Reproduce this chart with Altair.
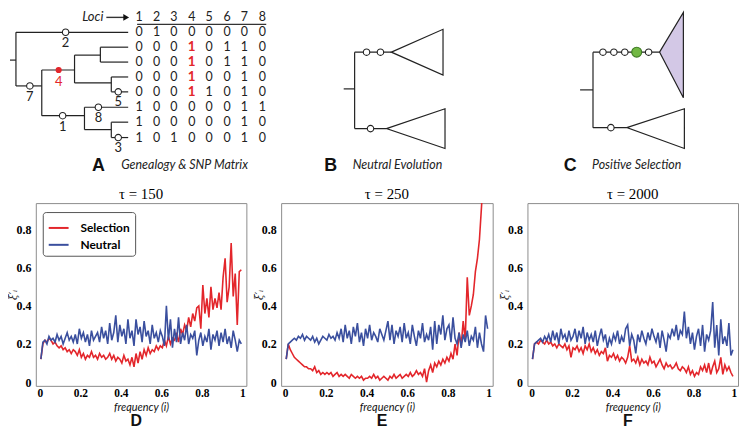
import altair as alt
import pandas as pd

RED = "#e3262b"
BLUE = "#3a4f9e"
INK = "#222222"

# ---------------- bottom panels: frequency bins and values ----------------
freq = [round(0.005 + 0.01 * k, 3) for k in range(100)]

d_sel = [0.12, 0.20, 0.22, 0.21, 0.23, 0.22, 0.20, 0.21, 0.19, 0.18,
         0.19, 0.17, 0.18, 0.16, 0.17, 0.15, 0.17, 0.16, 0.14, 0.17,
         0.13, 0.15, 0.12, 0.14, 0.13, 0.16, 0.13, 0.14, 0.12, 0.15,
         0.13, 0.14, 0.12, 0.13, 0.15, 0.12, 0.14, 0.11, 0.13, 0.12,
         0.10, 0.14, 0.11, 0.12, 0.09, 0.13, 0.08, 0.15, 0.10, 0.16,
         0.12, 0.17, 0.14, 0.18, 0.15, 0.17, 0.16, 0.19, 0.17, 0.19,
         0.18, 0.22, 0.19, 0.24, 0.20, 0.23, 0.22, 0.25, 0.21, 0.28,
         0.25, 0.30, 0.27, 0.34, 0.29, 0.36, 0.32, 0.39, 0.40, 0.28,
         0.51, 0.36, 0.44, 0.34, 0.50, 0.38, 0.44, 0.39, 0.47, 0.38,
         0.55, 0.65, 0.42, 0.50, 0.73, 0.45, 0.57, 0.30, 0.58, 0.59]
d_neu = [0.12, 0.21, 0.22, 0.20, 0.24, 0.22, 0.23, 0.21, 0.25, 0.22,
         0.24, 0.20, 0.23, 0.26, 0.22, 0.24, 0.21, 0.25, 0.20, 0.28,
         0.23, 0.26, 0.21, 0.25, 0.19, 0.27, 0.22, 0.24, 0.26, 0.21,
         0.29, 0.23, 0.27, 0.20, 0.31, 0.22, 0.26, 0.35, 0.21, 0.30,
         0.24, 0.28, 0.20, 0.33, 0.23, 0.27, 0.19, 0.33, 0.25, 0.29,
         0.21, 0.32, 0.24, 0.27, 0.20, 0.30, 0.23, 0.26, 0.21, 0.27,
         0.24, 0.19, 0.40, 0.22, 0.33, 0.18, 0.28, 0.21, 0.34, 0.20,
         0.26, 0.22, 0.30, 0.20, 0.25, 0.23, 0.27, 0.14, 0.22, 0.26,
         0.19, 0.24, 0.21, 0.28, 0.17, 0.25, 0.22, 0.27, 0.19, 0.26,
         0.21, 0.28, 0.20, 0.24, 0.18, 0.27, 0.22, 0.16, 0.22, 0.20]

e_sel = [0.12, 0.20, 0.17, 0.15, 0.13, 0.12, 0.11, 0.10, 0.09, 0.08,
         0.08, 0.07, 0.07, 0.06, 0.08, 0.05, 0.06, 0.04, 0.05, 0.04,
         0.05, 0.04, 0.05, 0.03, 0.04, 0.05, 0.03, 0.04, 0.03, 0.04,
         0.03, 0.02, 0.04, 0.03, 0.02, 0.03, 0.02, 0.03, 0.01, 0.02,
         0.02, 0.03, 0.02, 0.04, 0.02, 0.03, 0.01, 0.02, 0.03, 0.02,
         0.01, 0.03, 0.02, 0.04, 0.02, 0.03, 0.04, 0.02, 0.03, 0.04,
         0.03, 0.05, 0.03, 0.04, 0.06, 0.04, 0.05, 0.03, 0.07, 0.00,
         0.06, 0.09, 0.05, 0.10, 0.08, 0.11, 0.09, 0.12, 0.10, 0.13,
         0.11, 0.15, 0.12, 0.20, 0.14, 0.26, 0.19, 0.32, 0.22, 0.55,
         0.35, 0.40, 0.46, 0.58, 0.65, 0.75, 0.92, 1.10, 1.20, 1.25]
e_neu = [0.12, 0.20, 0.21, 0.22, 0.23, 0.22, 0.24, 0.23, 0.25, 0.22,
         0.24, 0.23, 0.22, 0.24, 0.21, 0.23, 0.20, 0.22, 0.24, 0.23,
         0.22, 0.25, 0.23, 0.24, 0.22, 0.26, 0.23, 0.28, 0.21, 0.30,
         0.23, 0.27, 0.20, 0.29, 0.24, 0.31, 0.21, 0.26, 0.19, 0.28,
         0.23, 0.30, 0.22, 0.26, 0.24, 0.21, 0.28, 0.25, 0.22, 0.27,
         0.32, 0.22, 0.30, 0.20, 0.27, 0.24, 0.29, 0.21, 0.31, 0.23,
         0.26, 0.20, 0.30, 0.24, 0.19, 0.27, 0.23, 0.31, 0.21, 0.25,
         0.22, 0.29, 0.17, 0.32, 0.20, 0.30, 0.25, 0.35, 0.22, 0.28,
         0.30, 0.21, 0.34, 0.23, 0.20, 0.26, 0.18, 0.25, 0.21, 0.27,
         0.19, 0.24, 0.22, 0.29, 0.18, 0.26, 0.20, 0.16, 0.35, 0.28]

f_sel = [0.12, 0.20, 0.21, 0.20, 0.22, 0.21, 0.20, 0.22, 0.20, 0.21,
         0.19, 0.20, 0.18, 0.20, 0.19, 0.18, 0.20, 0.17, 0.19, 0.13,
         0.18, 0.17, 0.19, 0.16, 0.18, 0.15, 0.19, 0.17, 0.20, 0.16,
         0.18, 0.15, 0.17, 0.14, 0.16, 0.15, 0.18, 0.11, 0.14, 0.13,
         0.15, 0.12, 0.14, 0.11, 0.13, 0.12, 0.10, 0.13, 0.19, 0.11,
         0.12, 0.10, 0.13, 0.09, 0.12, 0.10, 0.11, 0.09, 0.13, 0.10,
         0.11, 0.08, 0.10, 0.12, 0.09, 0.07, 0.10, 0.08, 0.09, 0.07,
         0.08, 0.10, 0.07, 0.06, 0.08, 0.07, 0.05, 0.08, 0.04, 0.06,
         0.03, 0.05, 0.04, 0.08, 0.06, 0.09, 0.05, 0.10, 0.04, 0.08,
         0.11, 0.05, 0.07, 0.13, 0.04, 0.09, 0.06, 0.08, 0.05, 0.03]
f_neu = [0.12, 0.20, 0.21, 0.22, 0.23, 0.21, 0.24, 0.22, 0.25, 0.21,
         0.27, 0.22, 0.26, 0.20, 0.28, 0.23, 0.25, 0.21, 0.27, 0.22,
         0.24, 0.28, 0.21, 0.27, 0.23, 0.29, 0.20, 0.26, 0.22, 0.25,
         0.21, 0.27, 0.19, 0.24, 0.28, 0.22, 0.25, 0.18, 0.23, 0.20,
         0.25, 0.22, 0.27, 0.20, 0.24, 0.21, 0.28, 0.30, 0.19, 0.25,
         0.22, 0.15, 0.25, 0.21, 0.27, 0.23, 0.20, 0.26, 0.22, 0.28,
         0.24, 0.21, 0.26, 0.18, 0.27, 0.22, 0.16, 0.25, 0.23, 0.28,
         0.24, 0.30, 0.22, 0.27, 0.25, 0.37, 0.23, 0.29, 0.20, 0.26,
         0.17, 0.24, 0.28, 0.19, 0.30, 0.16, 0.25, 0.22, 0.27, 0.42,
         0.18, 0.30, 0.14, 0.33, 0.20, 0.24, 0.19, 0.31, 0.14, 0.17]

x_ticks = [0, 0.2, 0.4, 0.6, 0.8, 1]
y_ticks = [0, 0.2, 0.4, 0.6, 0.8]
series_names = ["Selection", "Neutral"]

# ---------------- top row: schematic trees (figure units) ----------------
loci = [1, 2, 3, 4, 5, 6, 7, 8]
loci_x = [139, 156.5, 174, 192, 209.5, 227.5, 245, 263]
row_y = [29, 44, 59, 74, 89, 104.5, 119.5, 135]
snp = [[0, 1, 0, 0, 0, 0, 0, 0],
       [0, 0, 0, 1, 0, 1, 1, 0],
       [0, 0, 0, 1, 0, 1, 1, 0],
       [0, 0, 0, 1, 0, 0, 1, 0],
       [0, 0, 0, 1, 1, 0, 1, 0],
       [1, 0, 0, 0, 0, 0, 1, 1],
       [1, 0, 0, 0, 0, 0, 1, 0],
       [1, 0, 1, 0, 0, 0, 1, 0]]

tree_a_edges = [
    (9, 57, 15, 57), (15, 29, 15, 83), (15, 29, 128, 29), (15, 83, 41, 83),
    (41, 67, 41, 113), (41, 67, 74, 67), (74, 52, 74, 80), (74, 52, 100, 52),
    (100, 44, 100, 59), (100, 44, 128, 44), (100, 59, 128, 59),
    (74, 80, 111, 80), (111, 74, 111, 89), (111, 74, 128, 74), (111, 89, 128, 89),
    (41, 113, 84, 113), (84, 104.5, 84, 127), (84, 104.5, 128, 104.5),
    (84, 127, 111, 127), (111, 119.5, 111, 135), (111, 119.5, 128, 119.5),
    (111, 135, 128, 135),
]
tree_b_edges = [(345, 86, 356, 86), (356, 49, 356, 126), (356, 49, 393, 49),
                (356, 126, 388, 126)]
tree_c_edges = [(583, 87, 596, 87), (596, 49, 596, 125), (596, 49, 663, 49),
                (596, 125, 630, 125)]
other_rules = [(137, 21, 267, 21), (106, 14, 124, 14)]

# clades as triangles: apex (x, y), open side at x_r spanning y_top..y_bot
clades = [("b1", 393, 49, 445, 26, 72, "white"),
          ("b2", 388, 126, 447, 106, 146, "white"),
          ("c1", 663, 49, 687, 9, 95, "#d3c8e6"),
          ("c2", 630, 125, 688, 106, 146, "white")]

# mutations on branches: x, y, label, label_y, fill, size
mutations = [(65, 29, "2", 40, "white", 42), (29, 83, "7", 94, "white", 42),
             (58, 67, "4", 79, RED, 26), (62, 113, "1", 124, "white", 42),
             (98, 104.5, "8", 115, "white", 42), (118, 89, "5", 99, "white", 42),
             (118, 135, "3", 146, "white", 42),
             (368, 49, "", 0, "white", 42), (382, 49, "", 0, "white", 42),
             (372, 126, "", 0, "white", 42),
             (606, 49, "", 0, "white", 42), (617, 49, "", 0, "white", 42),
             (628, 49, "", 0, "white", 42), (640, 49, "", 0, "#72b844", 100),
             (652, 49, "", 0, "white", 42), (614, 125, "", 0, "white", 42)]

panel_letters = [("A", 98, 169), ("B", 332, 169), ("C", 573, 169)]
panel_captions = [("Genealogy & SNP Matrix", 121, 167),
                  ("Neutral Evolution", 354, 167),
                  ("Positive Selection", 595, 167)]

# ---------------- build top chart ----------------
xs = alt.Scale(domain=[35, 739], nice=False, zero=False)
ys = alt.Scale(domain=[8, 175], nice=False, zero=False, reverse=True)

def X(f="x"):
    return alt.X(f"{f}:Q", scale=xs, axis=None)

def Y(f="y"):
    return alt.Y(f"{f}:Q", scale=ys, axis=None)

seg_df = pd.DataFrame(tree_a_edges + tree_b_edges + tree_c_edges,
                      columns=["x", "y", "x2", "y2"])
other_df = pd.DataFrame(other_rules, columns=["x", "y", "x2", "y2"])

tri_rows = []
for cid, xa, ya, xr, yt, yb, col in clades:
    tri_rows.append({"id": cid, "x": xa, "y": ya, "y2": ya, "fc": col})
    tri_rows.append({"id": cid, "x": xr, "y": yt, "y2": yb, "fc": col})
tri_df = pd.DataFrame(tri_rows)

mut_df = pd.DataFrame(mutations, columns=["x", "y", "lab", "ly", "fc", "sz"])
mut_df["sc"] = mut_df["fc"].map(lambda c: RED if c == RED else ("#3d7a22" if c == "#72b844" else INK))
mut_df["tc"] = mut_df["fc"].map(lambda c: RED if c == RED else INK)
lab_df = mut_df[mut_df["lab"] != ""]

cells = []
for i, row in enumerate(snp):
    for j, v in enumerate(row):
        cells.append({"x": loci_x[j], "y": row_y[i], "t": str(v),
                      "hi": (loci[j] == 4 and v == 1)})
cell_df = pd.DataFrame(cells)
head_df = pd.DataFrame({"x": loci_x, "y": [14] * 8, "t": [str(l) for l in loci]})

segs = alt.Chart(seg_df).mark_rule(color=INK, strokeWidth=1.2).encode(
    x=X(), y=Y(), x2="x2:Q", y2="y2:Q")
others = alt.Chart(other_df).mark_rule(color="#333", strokeWidth=1.4).encode(
    x=X(), y=Y(), x2="x2:Q", y2="y2:Q")
arrow_head = alt.Chart(pd.DataFrame({"x": [126], "y": [14]})).mark_point(
    shape="triangle-right", filled=True, color="#111", size=45, opacity=1).encode(x=X(), y=Y())
tris = alt.Chart(tri_df).mark_area(orient="vertical", stroke=INK, strokeWidth=1.2).encode(
    x=X(), y=Y(), y2="y2:Q", detail="id:N", fill=alt.Fill("fc:N", scale=None))
muts = alt.Chart(mut_df).mark_point(shape="circle", filled=True, strokeWidth=1.1, opacity=1).encode(
    x=X(), y=Y(), fill=alt.Fill("fc:N", scale=None), stroke=alt.Stroke("sc:N", scale=None),
    size=alt.Size("sz:Q", scale=None))
mut_labels = alt.Chart(lab_df).mark_text(font="Lato", fontSize=13, baseline="middle").encode(
    x=X(), y=Y("ly"), text="lab:N", color=alt.Color("tc:N", scale=None))
digits = alt.Chart(cell_df[~cell_df["hi"]]).mark_text(
    font="Lato", fontSize=12.5, color=INK, baseline="middle").encode(x=X(), y=Y(), text="t:N")
digits_hi = alt.Chart(cell_df[cell_df["hi"]]).mark_text(
    font="Lato", fontSize=13.5, fontWeight="bold", color=RED, baseline="middle").encode(
    x=X(), y=Y(), text="t:N")
header = alt.Chart(head_df).mark_text(font="Lato", fontSize=12.5, color=INK, baseline="middle").encode(
    x=X(), y=Y(), text="t:N")
loci_lab = alt.Chart(pd.DataFrame({"x": [103], "y": [14], "t": ["Loci"]})).mark_text(
    font="Lato", fontSize=13, fontStyle="italic", align="right", baseline="middle", color=INK).encode(
    x=X(), y=Y(), text="t:N")
let_df = pd.DataFrame(panel_letters, columns=["t", "x", "y"])
cap_df = pd.DataFrame(panel_captions, columns=["t", "x", "y"])
letters = alt.Chart(let_df).mark_text(font="Liberation Sans", fontSize=18, fontWeight="bold",
                                      baseline="alphabetic", color="#111").encode(x=X(), y=Y(), text="t:N")
captions = alt.Chart(cap_df).mark_text(font="Lato", fontSize=12.5, fontStyle="italic", align="left",
                                       baseline="alphabetic", color=INK).encode(x=X(), y=Y(), text="t:N")

top = alt.layer(tris, segs, others, arrow_head, muts, mut_labels, digits, digits_hi, header,
                loci_lab, letters, captions).properties(
    width=704, height=167, view=alt.ViewBackground(stroke="transparent"))

# ---------------- bottom panels ----------------
def panel(sel, neu, tau, letter, width, show_legend):
    df = pd.DataFrame({"f": freq + freq, "v": sel + neu,
                       "s": [series_names[0]] * len(sel) + [series_names[1]] * len(neu)})
    if show_legend:
        leg = alt.Legend(orient="none", legendX=7, legendY=9, title=None, symbolType="stroke",
                         symbolSize=400, symbolStrokeWidth=2, labelFont="Lato", labelFontWeight="bold",
                         labelFontSize=12, labelColor="black", labelOffset=11, padding=5,
                         rowPadding=0, fillColor="white", strokeColor="#555", cornerRadius=3)
    else:
        leg = None
    lines = alt.Chart(df).mark_line(strokeWidth=1.6, clip=True).encode(
        x=alt.X("f:Q", scale=alt.Scale(domain=[-0.02, 1.02], nice=False, zero=False),
                axis=alt.Axis(values=x_ticks, format=".1~f", title="frequency (i)", grid=False,
                              domain=False, ticks=False, labelPadding=2, titlePadding=2,
                              labelFont="Liberation Serif", labelFontWeight="bold", labelFontSize=11.5,
                              titleFont="Lato", titleFontStyle="italic", titleFontWeight="normal",
                              titleFontSize=11, labelColor="black", titleColor="#111")),
        y=alt.Y("v:Q", scale=alt.Scale(domain=[-0.02, 0.94], nice=False, zero=False),
                axis=alt.Axis(values=y_ticks, format=".1~f", title="ξ′ᵢ", grid=False,
                              domain=False, ticks=False, labelPadding=5, titlePadding=-3,
                              labelFont="Liberation Serif", labelFontWeight="bold", labelFontSize=12,
                              titleFont="DejaVu Serif", titleFontStyle="italic", titleFontWeight="normal",
                              titleFontSize=10.5, labelColor="black", titleColor="#111")),
        color=alt.Color("s:N", scale=alt.Scale(domain=series_names, range=[RED, BLUE]), legend=leg),
    )
    let = alt.Chart(pd.DataFrame({"t": [letter]})).mark_text(
        font="Liberation Sans", fontSize=16, fontWeight="bold", baseline="alphabetic", color="#111").encode(
        text="t:N", x=alt.value(width / 2 - 5), y=alt.value(224))
    return alt.layer(lines, let).properties(
        width=width, height=184,
        title=alt.TitleParams(text=tau, font="Liberation Serif", fontSize=15, fontWeight="normal",
                              offset=1, color="black"))

pD = panel(d_sel, d_neu, "τ = 150", "D", 212, True)
pE = panel(e_sel, e_neu, "τ = 250", "E", 213, False)
pF = panel(f_sel, f_neu, "τ = 2000", "F", 212, False)

bottom = alt.hconcat(pD, pE, pF, spacing=6).resolve_scale(color="independent").resolve_legend(
    color="independent")

chart = alt.vconcat(top, bottom, spacing=8).properties(
    padding=0).configure_view(stroke="#8c8c8c", strokeWidth=1)

chart.save("out.html", embed_options={"renderer": "svg", "actions": False})
